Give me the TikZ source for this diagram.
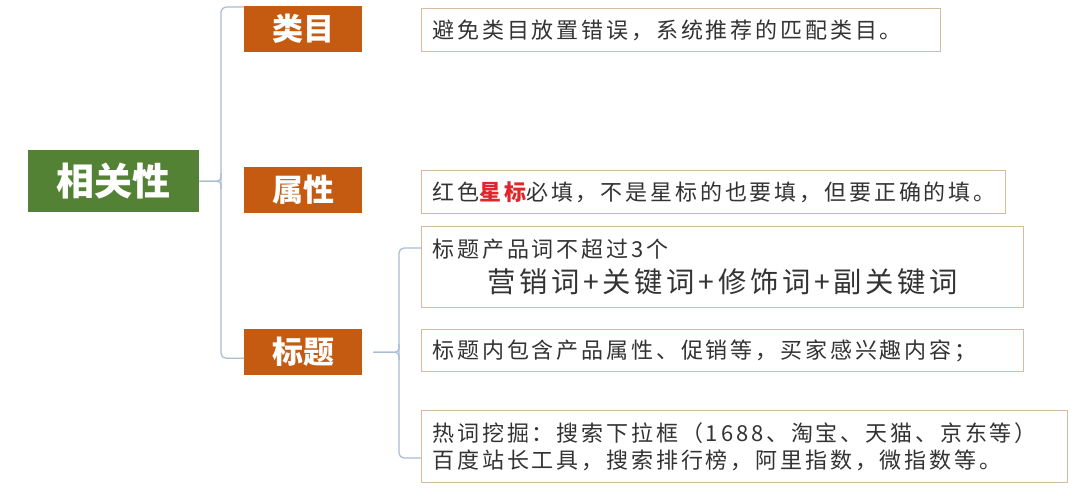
\documentclass[tikz,border=0pt]{standalone}
\usepackage{fontspec}
\setmainfont{Noto Sans CJK SC}
\newfontfamily\descfont[LetterSpace=13]{Noto Sans CJK SC}
\usetikzlibrary{positioning}
\definecolor{rootgreen}{HTML}{548235}
\definecolor{catorange}{HTML}{C55A11}
\definecolor{boxline}{HTML}{D6BC9F}
\definecolor{linkblue}{HTML}{A9BCD3}
\definecolor{starred}{HTML}{E0262B}
\definecolor{desctext}{HTML}{333333}

\begin{document}
\begin{tikzpicture}[x=1pt,y=-1pt,
    conn/.style={draw=linkblue, line width=1.2pt, rounded corners=5pt},
    labelbox/.style={fill=catorange, text=white, font=\fontsize{31}{31}\selectfont\bfseries,
      minimum width=118pt, minimum height=46pt, inner sep=0pt, anchor=north west},
    descbox/.style={draw=boxline, line width=1pt, fill=white, text=desctext,
      font=\descfont\fontsize{22}{27}\selectfont, inner xsep=11pt, inner ysep=0pt,
      align=left, anchor=north west}]
      \fill[white] (0,0) rectangle (1080,502);
      \useasboundingbox (0,0) rectangle (1080,502);
      % topics
      \node (root) [fill=rootgreen, text=white, font=\fontsize{38}{38}\selectfont\bfseries,
        minimum width=171pt, minimum height=62pt, inner sep=0pt, anchor=north west] at (28,150) {相关性};
      \node (lm) [labelbox] at (244,6) {类目};
      \node (sx) [labelbox] at (244,167) {属性};
      \node (bt) [labelbox] at (244,329) {标题};
      % notes
      \begin{scope}[every node/.style={descbox}]
        \node (d1) [text width=497pt, minimum height=43pt] at (421,8) {避免类目放置错误，系统推荐的匹配类目。};
        \node (d2) [text width=562pt, minimum height=43pt] at (421,170)
          {红色\textcolor{starred}{\bfseries 星标}必填，不是星标的也要填，但要正确的填。};
        \node (d3) [text width=580pt, minimum height=81pt] at (421,226)
          {标题产品词不超过3个\\[8pt]\hspace*{55pt}{\fontsize{28.3}{29}\selectfont 营销词+关键词+修饰词+副关键词}};
        \node (d4) [text width=580pt, minimum height=42pt] at (421,329) {标题内包含产品属性、促销等，买家感兴趣内容；};
        \node (d5) [text width=624pt, minimum height=72pt] at (421,410)
          {热词挖掘：搜索下拉框（1688、淘宝、天猫、京东等）\\百度站长工具，搜索排行榜，阿里指数，微指数等。};
      \end{scope}
      % links
      \coordinate (mj) at (221,181);
      \coordinate (tj) at (399,352);
      \begin{scope}[every path/.style={conn}]
        \path ([yshift=-1pt]lm.north west) -| (mj) |- ([yshift=-6pt]bt.west);
        \path[rounded corners=4pt] (root.east) -| ([yshift=8pt]mj);
        \path[rounded corners=4pt] (root.east) -| ([yshift=-8pt]mj);
        \path ([yshift=-22pt]d3.north west) -| (tj) |- ([yshift=25pt]d5.south west);
        \path[rounded corners=4pt] ([xshift=11pt]bt.east) -| ([yshift=8pt]tj);
        \path[rounded corners=4pt] ([xshift=11pt]bt.east) -| ([yshift=-8pt]tj);
      \end{scope}
    \end{tikzpicture}
\end{document}
